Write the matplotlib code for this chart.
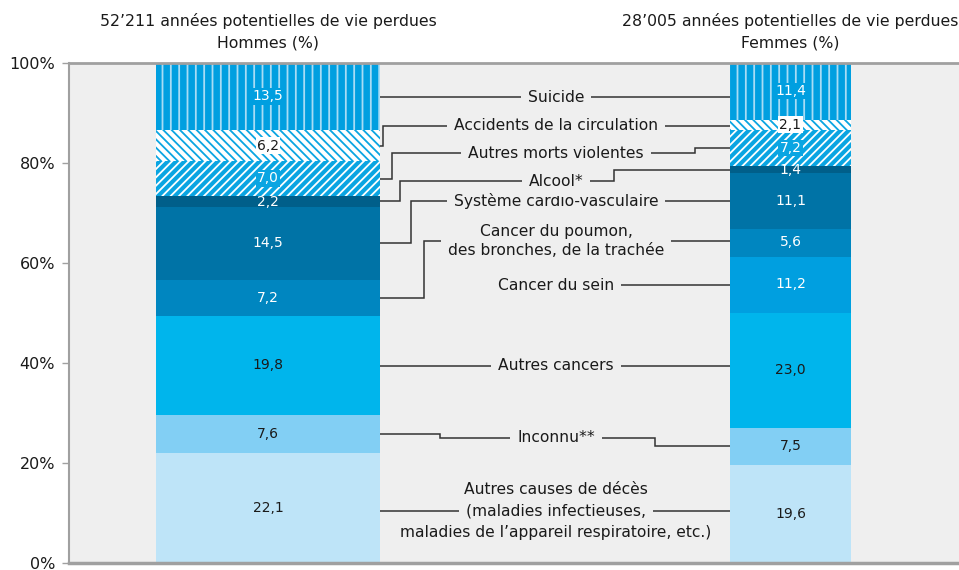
import matplotlib.pyplot as plt
import numpy as np

# data (bottom to top of each bar)
CAUSES = [
    "Autres causes de décès\n(maladies infectieuses,\nmaladies de l’appareil respiratoire, etc.)",
    "Inconnu**",
    "Autres cancers",
    "Cancer du sein",
    "Cancer du poumon,\ndes bronches, de la trachée",
    "Système cardio-vasculaire",
    "Alcool*",
    "Autres morts violentes",
    "Accidents de la circulation",
    "Suicide",
]
MEN = [22.1, 7.6, 19.8, 0.0, 7.2, 14.5, 2.2, 7.0, 6.2, 13.5]
WOMEN = [19.6, 7.5, 23.0, 11.2, 5.6, 11.1, 1.4, 7.2, 2.1, 11.4]
YEARS = [52211, 28005]
TITLES = [
    "52’211 années potentielles de vie perdues\nHommes (%)",
    "28’005 années potentielles de vie perdues\nFemmes (%)",
]
YTICKS = [0, 20, 40, 60, 80, 100]

BG = "#efefef"
LINE = "#333333"
GREY = "#a0a0a0"

# style per cause: (face colour, hatch, hatch colour, text colour, text box colour)
STYLES = [
    ("#bee4f8", None, None, "#1a1a1a", None),
    ("#82cff4", None, None, "#1a1a1a", None),
    ("#00b5ec", None, None, "#1a1a1a", None),
    ("#009fe0", None, None, "white", None),
    ("#0086c0", None, None, "white", None),
    ("#0073a6", None, None, "white", None),
    ("#005f8a", None, None, "white", None),
    ("#0aa5e2", "////", "white", "white", "#0aa5e2"),
    ("white", "\\\\\\\\", "#0aa5e2", "#1a1a1a", "white"),
    ("#009fe0", "||", "#a8dcf5", "white", "#009fe0"),
]

# layout of the connector labels (x units = axes pixels)
X_MEN, X_WOMEN, X_LABEL = 199, 721.5, 487
PX_PER_YEAR = 224 / 52211
LABEL_Y = [10.4, 25.0, 39.4, 55.6, 64.4, 72.4, 76.4, 82.0, 87.4, 93.2]
STEP_MEN = [None, 371, None, None, 355, 342, 331, 323, 314, None]
STEP_WOMEN = [None, 586, None, None, None, None, 545, 626, None, None]
LINE_STEP = 4.36  # spacing of stacked label lines, in %

plt.rcParams["hatch.linewidth"] = 1.3
plt.rcParams["font.family"] = "DejaVu Sans"

fig = plt.figure(figsize=(9.59, 5.70), dpi=100)
ax = fig.add_axes([69 / 959, 7 / 570, 890 / 959, 500 / 570])
ax.set_facecolor(BG)
ax.set_xlim(0, 890)
ax.set_ylim(0, 100)

widths = [y * PX_PER_YEAR for y in YEARS]
for xc, w, vals in [(X_MEN, widths[0], MEN), (X_WOMEN, widths[1], WOMEN)]:
    bottom = 0
    for v, (fc, hatch, hc, tc, tb) in zip(vals, STYLES):
        if v == 0:
            continue
        ax.bar(xc, v, w, bottom=bottom, color=fc, hatch=hatch,
               edgecolor=hc if hatch else fc, linewidth=0, zorder=2)
        box = None
        if tb is not None:
            box = dict(boxstyle="square,pad=0.1", fc=tb, ec="none")
        ax.text(xc, bottom + v / 2, f"{v:.1f}".replace(".", ","), ha="center",
                va="center", color=tc, fontsize=10, bbox=box, zorder=4)
        bottom += v

# connectors
cum_m = np.cumsum([0] + MEN)
cum_w = np.cumsum([0] + WOMEN)
men_edge = X_MEN + widths[0] / 2
women_edge = X_WOMEN - widths[1] / 2
for i, name in enumerate(CAUSES):
    ly = LABEL_Y[i]
    xs, ys = [], []
    if MEN[i] > 0:
        if STEP_MEN[i] is None:
            xs += [men_edge]
            ys += [ly]
        else:
            my = (cum_m[i] + cum_m[i + 1]) / 2
            xs += [men_edge, STEP_MEN[i], STEP_MEN[i]]
            ys += [my, my, ly]
    else:
        xs += [X_LABEL]
        ys += [ly]
    if STEP_WOMEN[i] is None:
        xs += [women_edge]
        ys += [ly]
    else:
        wy = (cum_w[i] + cum_w[i + 1]) / 2
        xs += [STEP_WOMEN[i], STEP_WOMEN[i], women_edge]
        ys += [ly, wy, wy]
    ax.plot(xs, ys, color=LINE, lw=1.1, zorder=1, solid_joinstyle="miter")

    lines = name.split("\n")
    if len(lines) == 3:
        # stacked lines, only the middle one masks the connector
        for k, txt in enumerate(lines):
            box = None
            if k == 1:
                box = dict(boxstyle="square,pad=0.45", fc=BG, ec="none")
            ax.text(X_LABEL, ly + (1 - k) * LINE_STEP, txt, ha="center",
                    va="center", fontsize=11.2, color="#1a1a1a", zorder=3,
                    bbox=box)
    else:
        ax.text(X_LABEL, ly, name, ha="center", va="center", fontsize=11.2,
                color="#1a1a1a", linespacing=1.4, zorder=3,
                bbox=dict(boxstyle="square,pad=0.45", fc=BG, ec="none"))

# titles above the bars
for xc, t in zip([X_MEN, X_WOMEN], TITLES):
    ax.text(xc, 102.4, t, ha="center", va="bottom", fontsize=11.3,
            color="#1a1a1a", linespacing=1.55, clip_on=False)

ax.set_yticks(YTICKS)
ax.set_yticklabels([f"{t}%" for t in YTICKS], fontsize=11.5, color="#1a1a1a")
ax.set_xticks([])
ax.tick_params(axis="y", length=5, width=1, color=GREY, pad=5)
ax.spines["right"].set_visible(False)
ax.spines["left"].set_color(GREY)
ax.spines["left"].set_linewidth(1.5)
ax.spines["top"].set_color(GREY)
ax.spines["top"].set_linewidth(2)
ax.spines["bottom"].set_color(GREY)
ax.spines["bottom"].set_linewidth(2.5)

fig.savefig("out.png", dpi=100)
